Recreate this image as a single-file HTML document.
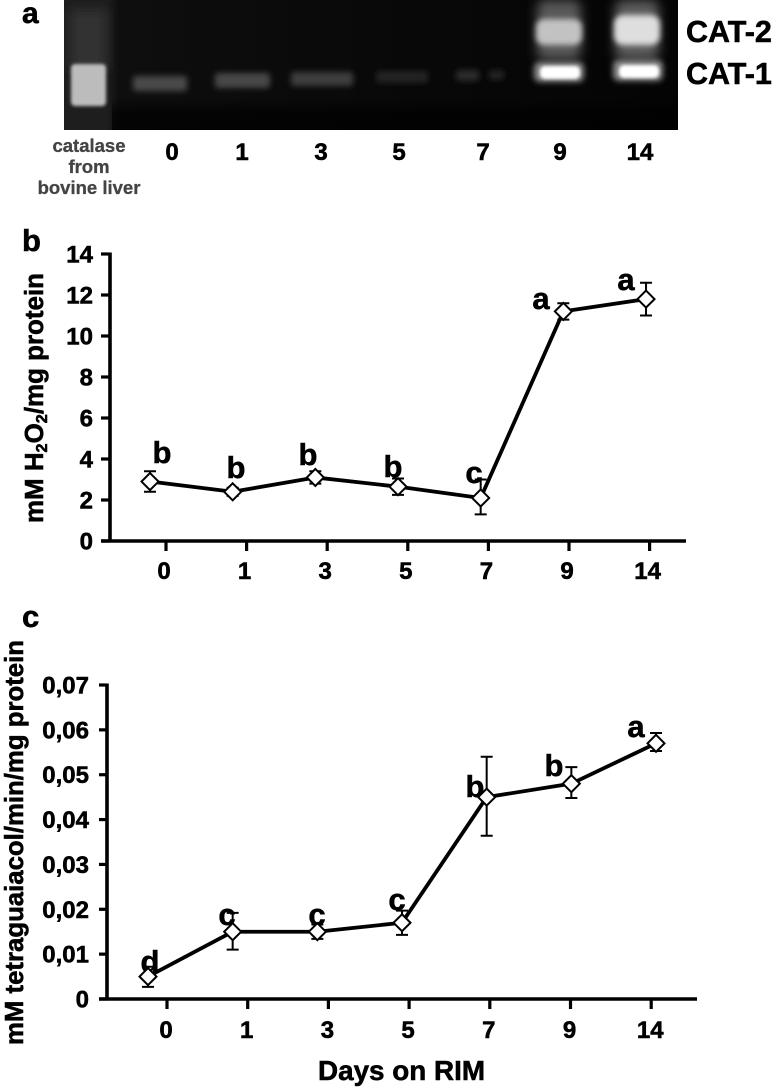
<!DOCTYPE html>
<html lang="en">
<head>
<meta charset="utf-8">
<title>Catalase activity figure</title>
<style>
html,body{margin:0;padding:0;background:#fff;}
svg{display:block;}
text{font-family:"Liberation Sans",sans-serif;font-weight:bold;fill:#000;stroke:#000;stroke-width:0.55px;}
.grey text{fill:#444;stroke:#444;stroke-width:0.3px;}
</style>
</head>
<body>
<svg id="figure" xmlns="http://www.w3.org/2000/svg" width="774" height="1087" viewBox="0 0 774 1087">
  <defs>
    <filter id="b1" x="-50%" y="-100%" width="200%" height="300%"><feGaussianBlur stdDeviation="1.6"/></filter>
    <filter id="b2" x="-50%" y="-100%" width="200%" height="300%"><feGaussianBlur stdDeviation="2.8"/></filter>
    <filter id="b3" x="-50%" y="-100%" width="200%" height="300%"><feGaussianBlur stdDeviation="5.5"/></filter>
    <clipPath id="gelclip"><rect x="64" y="0" width="614" height="130"/></clipPath>
    <linearGradient id="gelbg" x1="0" y1="0" x2="1" y2="0">
      <stop offset="0" stop-color="#1e1e1e"/>
      <stop offset="0.07" stop-color="#1e1e1e"/>
      <stop offset="0.09" stop-color="#0e0e0e"/>
      <stop offset="0.5" stop-color="#090909"/>
      <stop offset="1" stop-color="#040404"/>
    </linearGradient>
    <linearGradient id="gelfade" x1="0" y1="0" x2="0" y2="1">
      <stop offset="0" stop-color="#000" stop-opacity="0"/>
      <stop offset="0.5" stop-color="#000" stop-opacity="0"/>
      <stop offset="0.75" stop-color="#000" stop-opacity="0.7"/>
      <stop offset="1" stop-color="#000" stop-opacity="0.75"/>
    </linearGradient>
  </defs>

  <g clip-path="url(#gelclip)">
    <rect x="64" y="0" width="614" height="130" fill="url(#gelbg)"/>
    <rect x="112" y="65" width="566" height="65" fill="url(#gelfade)"/>
    <rect x="70" y="10" width="36" height="60" fill="#303030" filter="url(#b3)"/>
    <rect x="71" y="64" width="35" height="42" rx="4" fill="#bcbcbc" filter="url(#b1)"/>
    <rect x="133" y="76" width="54" height="15" rx="3" fill="#484848" filter="url(#b2)"/>
    <rect x="215" y="73" width="55" height="15" rx="3" fill="#464646" filter="url(#b2)"/>
    <rect x="291" y="72" width="62" height="14" rx="3" fill="#3e3e3e" filter="url(#b2)"/>
    <rect x="376" y="71" width="52" height="12" rx="3" fill="#242424" filter="url(#b2)"/>
    <rect x="456" y="70" width="23" height="11" rx="3" fill="#2c2c2c" filter="url(#b2)"/>
    <rect x="489" y="70" width="15" height="10" rx="3" fill="#222" filter="url(#b2)"/>
    <rect x="537" y="0" width="44" height="60" rx="8" fill="#585858" filter="url(#b3)"/>
    <rect x="536" y="19" width="46" height="26" rx="8" fill="#c2c2c2" filter="url(#b2)"/>
    <rect x="534" y="62" width="50" height="20" rx="6" fill="#8a8a8a" filter="url(#b2)"/>
    <rect x="540" y="66" width="40" height="13" rx="5" fill="#ffffff" filter="url(#b1)"/>
    <rect x="615" y="0" width="44" height="60" rx="8" fill="#5c5c5c" filter="url(#b3)"/>
    <rect x="614" y="15" width="46" height="30" rx="9" fill="#dedede" filter="url(#b2)"/>
    <rect x="613" y="60" width="50" height="21" rx="6" fill="#8a8a8a" filter="url(#b2)"/>
    <rect x="619" y="65" width="40" height="13" rx="5" fill="#ffffff" filter="url(#b1)"/>
  </g>

  <text x="22" y="23" font-size="30">a</text>
  <text x="686" y="42" font-size="30.5">CAT-2</text>
  <text x="686" y="84" font-size="30.5">CAT-1</text>
  <g class="grey" font-size="18.5" text-anchor="middle">
    <text x="89" y="152">catalase</text>
    <text x="89" y="173">from</text>
    <text x="89" y="194">bovine liver</text>
  </g>
  <g font-size="24" text-anchor="middle">
    <text x="172" y="160">0</text>
    <text x="242" y="160">1</text>
    <text x="321" y="160">3</text>
    <text x="399" y="160">5</text>
    <text x="483" y="160">7</text>
    <text x="560" y="160">9</text>
    <text x="640" y="160">14</text>
  </g>

  <text x="22" y="251" font-size="31">b</text>
  <text x="22" y="627" font-size="31">c</text>

  <text transform="translate(43,523) rotate(-90)" font-size="25.5" textLength="250" lengthAdjust="spacingAndGlyphs">mM H<tspan font-size="16" dy="4">2</tspan><tspan dy="-4">O</tspan><tspan font-size="16" dy="4">2</tspan><tspan dy="-4">/mg protein</tspan></text>
  <text transform="translate(23,1045) rotate(-90)" font-size="26" textLength="405" lengthAdjust="spacingAndGlyphs">mM tetraguaiacol/min/mg protein</text>
  <text x="318" y="1080" font-size="27.5" textLength="167" lengthAdjust="spacingAndGlyphs">Days on RIM</text>

  <g font-size="31" text-anchor="middle">
    <text x="162" y="463">b</text>
    <text x="236" y="478">b</text>
    <text x="308" y="465">b</text>
    <text x="393" y="477">b</text>
    <text x="474" y="483">c</text>
    <text x="541" y="309">a</text>
    <text x="626" y="290">a</text>
  </g>
  <g font-size="31" text-anchor="middle">
    <text x="150" y="972">d</text>
    <text x="227" y="925">c</text>
    <text x="317" y="925">c</text>
    <text x="397" y="910">c</text>
    <text x="475" y="797">b</text>
    <text x="554" y="776">b</text>
    <text x="636" y="737">a</text>
  </g>

  <g id="chart-b"></g>
  <g id="chart-c"></g>
</svg>

<script>
var dayLabels = ["0", "1", "3", "5", "7", "9", "14"];

var bTicks = [0, 2, 4, 6, 8, 10, 12, 14];
var bTickLabels = ["0", "2", "4", "6", "8", "10", "12", "14"];
var bValues = [2.9, 2.4, 3.1, 2.65, 2.1, 11.2, 11.8];
var bUpper = [3.4, 2.6, 3.4, 3.05, 3.0, 11.6, 12.6];
var bLower = [2.4, 2.2, 2.8, 2.25, 1.3, 10.8, 11.0];

var cTicks = [0, 0.01, 0.02, 0.03, 0.04, 0.05, 0.06, 0.07];
var cTickLabels = ["0", "0,01", "0,02", "0,03", "0,04", "0,05", "0,06", "0,07"];
var cValues = [0.005, 0.015, 0.015, 0.017, 0.045, 0.048, 0.057];
var cUpper = [0.0072, 0.0192, 0.0166, 0.0197, 0.054, 0.0517, 0.0593];
var cLower = [0.0027, 0.011, 0.0134, 0.0143, 0.0364, 0.0448, 0.0553];

var NS = "http://www.w3.org/2000/svg";

function make(parent, tag, attrs, text) {
  var el = document.createElementNS(NS, tag);
  for (var k in attrs) { el.setAttribute(k, attrs[k]); }
  if (text !== undefined) { el.textContent = text; }
  parent.appendChild(el);
  return el;
}

function drawChart(root, o) {
  function yScale(v) { return o.y0 - (v / o.yMax) * (o.y0 - o.yTop); }
  function xPoint(i) { return o.px0 + o.pxStep * i; }
  function xTick(i) { return o.tx0 + o.txStep * i; }
  var i, el;

  el = make(root, "line", {x1: o.axisX, y1: o.yTop - 1.5, x2: o.axisX, y2: o.y0 + 1.5, stroke: "#000", "stroke-width": 3.6});
  
  

  el = make(root, "line", {x1: o.tickLeft, y1: o.y0, x2: o.axisEnd, y2: o.y0, stroke: "#000", "stroke-width": 3.6});
  
  

  for (i = 0; i < o.ticks.length; i++) {
    var ty = yScale(o.ticks[i]);
    el = make(root, "line", {x1: o.tickLeft, y1: ty, x2: o.axisX, y2: ty, stroke: "#000", "stroke-width": 3.2});
    
    
    el = make(root, "text", {x: o.yLabelX, y: ty + 8.5, "text-anchor": "end", "font-size": o.yFont}, o.tickLabels[i]);
    
    
  }

  for (i = 0; i < dayLabels.length; i++) {
    el = make(root, "line", {x1: xTick(i), y1: o.y0, x2: xTick(i), y2: o.y0 + 10, stroke: "#000", "stroke-width": 3.2});
    
    
    el = make(root, "text", {x: xTick(i) - o.xLabelShift, y: o.xLabelY, "text-anchor": "middle", "font-size": 24}, dayLabels[i]);
    
    
  }

  for (i = 0; i < o.values.length; i++) {
    var ex = xPoint(i);
    var up = yScale(o.upper[i]);
    var lo = yScale(o.lower[i]);
    el = make(root, "path", {d: "M" + ex + " " + up + "V" + lo + "M" + (ex - 6) + " " + up + "H" + (ex + 6) + "M" + (ex - 6) + " " + lo + "H" + (ex + 6), fill: "none", stroke: "#000", "stroke-width": 2});
    
    
  }

  var pts = [];
  for (i = 0; i < o.values.length; i++) {
    pts.push(xPoint(i) + "," + yScale(o.values[i]));
  }
  el = make(root, "polyline", {points: pts.join(" "), fill: "none", stroke: "#000", "stroke-width": 3.8, "stroke-linejoin": "round"});
  
  

  for (i = 0; i < o.values.length; i++) {
    var cx = xPoint(i);
    var cy = yScale(o.values[i]);
    var r = 8.5;
    el = make(root, "polygon", {points: cx + "," + (cy - r) + " " + (cx + r) + "," + cy + " " + cx + "," + (cy + r) + " " + (cx - r) + "," + cy, fill: "#fff", stroke: "#000", "stroke-width": 2});
    
    
  }
}

drawChart(document.getElementById("chart-b"), {
  ticks: bTicks, tickLabels: bTickLabels, values: bValues, upper: bUpper, lower: bLower,
  yMax: 14, y0: 541, yTop: 254, axisX: 110, tickLeft: 101, axisEnd: 686,
  px0: 150, pxStep: 82.67, tx0: 166, txStep: 80.6,
  yLabelX: 93, yFont: 24, xLabelShift: 2, xLabelY: 579
});

drawChart(document.getElementById("chart-c"), {
  ticks: cTicks, tickLabels: cTickLabels, values: cValues, upper: cUpper, lower: cLower,
  yMax: 0.07, y0: 999, yTop: 685, axisX: 107, tickLeft: 99, axisEnd: 697,
  px0: 148, pxStep: 84.67, tx0: 167, txStep: 80.7,
  yLabelX: 89, yFont: 24, xLabelShift: 1, xLabelY: 1038
});
</script>
</body>
</html>
